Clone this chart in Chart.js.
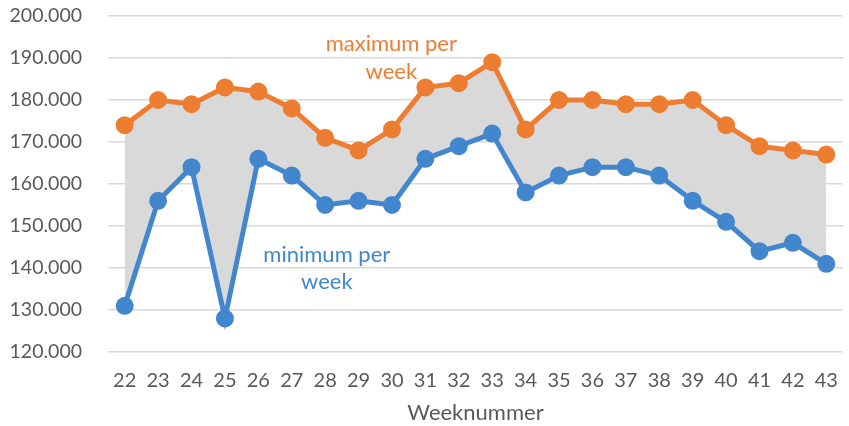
<!DOCTYPE html>
<html>
<head>
<meta charset="utf-8">
<script src="https://cdn.jsdelivr.net/npm/chart.js@4"></script>
<style>
  html, body { margin: 0; padding: 0; background: #fff; }
  #wrap { width: 849px; height: 426px; }
</style>
</head>
<body>
<div id="wrap"><canvas id="weekChart"></canvas></div>
<script>
const weeks = ["22", "23", "24", "25", "26", "27", "28", "29", "30", "31", "32",
  "33", "34", "35", "36", "37", "38", "39", "40", "41", "42", "43"];
const maxPerWeek = [174000, 180000, 179000, 183000, 182000, 178000, 171000, 168000,
  173000, 183000, 184000, 189000, 173000, 180000, 180000, 179000, 179000, 180000,
  174000, 169000, 168000, 167000];
const minPerWeek = [131000, 156000, 164000, 128000, 166000, 162000, 155000, 156000,
  155000, 166000, 169000, 172000, 158000, 162000, 164000, 164000, 162000, 156000,
  151000, 144000, 146000, 141000];

const orange = "#ED7D31";
const blue = "#4287CE";
const font = "Lato, 'Open Sans', sans-serif";

// text labels placed at positions on the scales
const seriesLabels = [
  { lines: ["maximum per", "week"], x: 7.98, y: [193300, 186700], color: orange },
  { lines: ["minimum per", "week"], x: 6.05, y: [143200, 136700], color: blue },
];

const labelPlugin = {
  id: "seriesLabels",
  afterDatasetsDraw(chart) {
    const { ctx, scales } = chart;
    ctx.save();
    ctx.font = "22px " + font;
    ctx.textAlign = "center";
    ctx.textBaseline = "middle";
    seriesLabels.forEach((l) => {
      ctx.fillStyle = l.color;
      const x = scales.x.getPixelForValue(l.x);
      l.lines.forEach((t, i) => {
        ctx.fillText(t, x, scales.y.getPixelForValue(l.y[i]));
      });
    });
    ctx.restore();
  },
};

new Chart(document.getElementById("weekChart"), {
  type: "line",
  data: {
    labels: weeks,
    datasets: [
      {
        label: "maximum per week",
        data: maxPerWeek,
        borderColor: orange,
        backgroundColor: "#d9d9d9",
        pointBackgroundColor: orange,
        pointBorderColor: orange,
        borderWidth: 5,
        pointRadius: 6.5,
        tension: 0,
        fill: "+1",
      },
      {
        label: "minimum per week",
        data: minPerWeek,
        borderColor: blue,
        backgroundColor: blue,
        pointBackgroundColor: blue,
        pointBorderColor: blue,
        borderWidth: 5,
        pointRadius: 6.5,
        tension: 0,
        fill: false,
      },
    ],
  },
  options: {
    responsive: true,
    maintainAspectRatio: false,
    animation: false,
    layout: { autoPadding: false, padding: { top: 16, right: 6, bottom: 0, left: 0 } },
    plugins: {
      legend: { display: false },
      tooltip: { enabled: false },
      filler: { drawTime: "beforeDatasetsDraw" },
    },
    scales: {
      x: {
        offset: true,
        grid: { display: false, drawTicks: false },
        border: { display: false },
        ticks: { color: "#595959", font: { family: font, size: 20 }, padding: 17, maxRotation: 0 },
        title: {
          display: true,
          text: "Weeknummer",
          color: "#595959",
          font: { family: font, size: 22 },
          padding: { top: 9, bottom: 0 },
        },
        afterFit(scale) {
          scale.height = 74;
          scale.paddingLeft = 0;
          scale.paddingRight = 0;
        },
      },
      y: {
        min: 120000,
        max: 200000,
        grid: { color: "#d9d9d9", lineWidth: 1.5, drawTicks: false },
        border: { display: false },
        ticks: {
          stepSize: 10000,
          color: "#595959",
          font: { family: font, size: 19.5 },
          padding: 26,
          callback: (v) => Math.round(v / 1000) + ".000",
        },
        afterFit(scale) {
          scale.width = 108;
          scale.paddingTop = 0;
          scale.paddingBottom = 0;
        },
      },
    },
  },
  plugins: [labelPlugin],
});
</script>
</body>
</html>
